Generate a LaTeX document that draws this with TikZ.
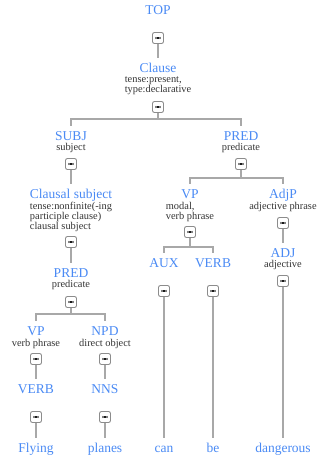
\documentclass[tikz,border=0pt]{standalone}
\usepackage{fontspec}
\setmainfont{Liberation Serif}
\usepackage{xcolor}
\usetikzlibrary{positioning}
\definecolor{TagBlue}{HTML}{4A8AF4}
\definecolor{EdgeGray}{HTML}{A8A8A8}
\definecolor{DescGray}{HTML}{333333}
\definecolor{BoxGray}{HTML}{8C8C8C}

\begin{document}
\begin{tikzpicture}[
    x=1pt, y=-1pt,
    tag/.style={font=\fontsize{13.5}{15}\selectfont, text=TagBlue, text height=8.9pt, text depth=0pt, inner xsep=1pt, inner ysep=5pt},
    word/.style={tag},
    desc/.style={font=\fontsize{10.4}{10}\selectfont, text=DescGray, align=left, anchor=north, inner sep=0pt, execute at begin node=\strut},
    toggle/.style={draw=BoxGray, line width=0.9pt, fill=white, rounded corners=2pt, minimum size=11pt, inner sep=0pt,
        path picture={\fill[black] ([xshift=-2.6pt,yshift=-0.8pt]path picture bounding box.center) rectangle ++(5.2pt,1.6pt);}},
    edge/.style={draw=EdgeGray, line width=1.1pt}
]
\useasboundingbox (0,0) rectangle (325,462);

% === Tags ===
\node[tag] (top) at (158,10) {TOP};
\node[tag] (clause) at (158,68) {Clause};
\node[desc] (clause-d) at (158,76) {tense:present,\\type:declarative};

\node[tag] (subj) at (71,136) {SUBJ};
\node[desc] (subj-d) at (71,143) {subject};
\node[tag] (pred) at (241,136) {PRED};
\node[desc] (pred-d) at (241,143) {predicate};

% Left branch
\node[tag] (clsubj) at (71,194) {Clausal subject};
\node[desc] (clsubj-d) at (71,202) {tense:nonfinite(-ing\\participle clause)\\clausal subject};
\node[tag] (pred2) at (71,273) {PRED};
\node[desc] (pred2-d) at (71,280) {predicate};
\node[tag] (vp2) at (36,331) {VP};
\node[desc] (vp2-d) at (36,339) {verb phrase};
\node[tag] (npd) at (105,331) {NPD};
\node[desc] (npd-d) at (105,339) {direct object};
\node[tag] (verbl) at (36,389) {VERB};
\node[tag] (nns) at (105,389) {NNS};

% Right branch
\node[tag] (vp) at (190,194) {VP};
\node[desc] (vp-d) at (190,202) {modal,\\verb phrase};
\node[tag] (adjp) at (283,194) {AdjP};
\node[desc] (adjp-d) at (283,202) {adjective phrase};
\node[tag] (aux) at (164,263) {AUX};
\node[tag] (verbr) at (213,263) {VERB};
\node[tag] (adj) at (283,253) {ADJ};
\node[desc] (adj-d) at (283,260) {adjective};

% === Words ===
\node[word] (w1) at (36,448) {Flying};
\node[word] (w2) at (105,448) {planes};
\node[word] (w3) at (164,448) {can};
\node[word] (w4) at (213,448) {be};
\node[word] (w5) at (283,448) {dangerous};

% === Toggles ===
\node[toggle] (b-top) at (158,38) {};
\node[toggle] (b-clause) at (158,107) {};
\node[toggle] (b-subj) at (71,164) {};
\node[toggle] (b-pred) at (241,164) {};
\node[toggle] (b-clsubj) at (71,242) {};
\node[toggle] (b-pred2) at (71,302) {};
\node[toggle] (b-vp2) at (36,359) {};
\node[toggle] (b-npd) at (105,359) {};
\node[toggle] (b-verbl) at (36,417) {};
\node[toggle] (b-nns) at (105,417) {};
\node[toggle] (b-vp) at (190,232) {};
\node[toggle] (b-adjp) at (283,223) {};
\node[toggle] (b-aux) at (164,291) {};
\node[toggle] (b-verbr) at (213,291) {};
\node[toggle] (b-adj) at (283,281) {};

% === Edges ===
\coordinate (j-clause) at (158,119);
\coordinate (j-pred) at (241,178);
\coordinate (j-vp) at (190,247);
\coordinate (j-pred2) at (71,314);

\draw[edge] (b-top.south) -- (clause.north);
\draw[edge] (b-clause.south) -- (j-clause) -| (subj.north);
\draw[edge] (j-clause) -| (pred.north);

\draw[edge] (b-subj.south) -- (clsubj.north);
\draw[edge] (b-clsubj.south) -- (pred2.north);
\draw[edge] (b-pred2.south) -- (j-pred2) -| (vp2.north);
\draw[edge] (j-pred2) -| (npd.north);
\draw[edge] (b-vp2.south) -- (verbl.north);
\draw[edge] (b-npd.south) -- (nns.north);
\draw[edge] (b-verbl.south) -- (w1.north);
\draw[edge] (b-nns.south) -- (w2.north);

\draw[edge] (b-pred.south) -- (j-pred) -| (vp.north);
\draw[edge] (j-pred) -| (adjp.north);
\draw[edge] (b-vp.south) -- (j-vp) -| (aux.north);
\draw[edge] (j-vp) -| (verbr.north);
\draw[edge] (b-adjp.south) -- (adj.north);
\draw[edge] (b-aux.south) -- (w3.north);
\draw[edge] (b-verbr.south) -- (w4.north);
\draw[edge] (b-adj.south) -- (w5.north);
\end{tikzpicture}
\end{document}
